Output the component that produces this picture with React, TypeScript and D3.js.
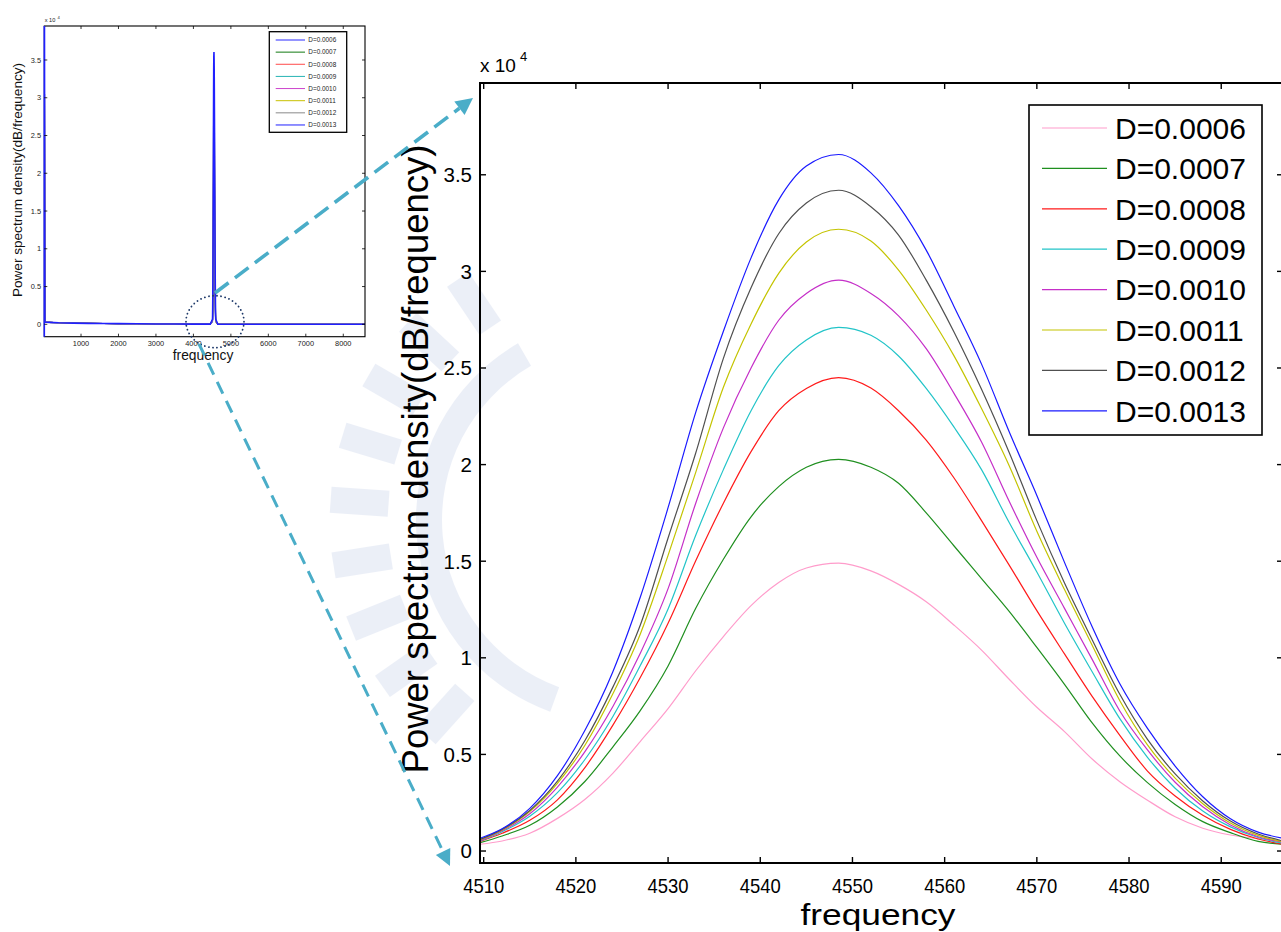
import React from "react";
import * as d3 from "d3";

// frequency samples (Hz) of the zoomed view
const FREQ = [4509.6, 4512, 4515, 4518, 4521, 4524, 4527, 4530, 4533, 4536, 4539, 4542, 4545, 4548.5, 4552, 4555, 4558, 4561, 4564, 4567, 4570, 4573, 4576, 4579, 4582, 4585, 4588, 4591, 4594, 4596.7];

// power spectrum density, in units of 1e4
const PSD_D0006 = [0.035, 0.052, 0.092, 0.169, 0.268, 0.402, 0.568, 0.737, 0.933, 1.11, 1.27, 1.39, 1.465, 1.49, 1.45, 1.38, 1.29, 1.17, 1.04, 0.889, 0.744, 0.618, 0.476, 0.359, 0.263, 0.177, 0.118, 0.083, 0.064, 0.053];
const PSD_D0007 = [0.043, 0.078, 0.133, 0.228, 0.361, 0.538, 0.728, 0.958, 1.256, 1.51, 1.73, 1.886, 1.986, 2.027, 1.986, 1.903, 1.75, 1.58, 1.41, 1.24, 1.054, 0.863, 0.663, 0.492, 0.354, 0.241, 0.152, 0.095, 0.05, 0.035];
const PSD_D0008 = [0.05, 0.092, 0.159, 0.265, 0.433, 0.65, 0.899, 1.179, 1.502, 1.8, 2.067, 2.279, 2.394, 2.45, 2.396, 2.279, 2.127, 1.932, 1.71, 1.48, 1.244, 1.02, 0.8, 0.599, 0.414, 0.285, 0.185, 0.112, 0.062, 0.035];
const PSD_D0009 = [0.052, 0.1, 0.18, 0.302, 0.475, 0.695, 0.961, 1.253, 1.634, 1.974, 2.279, 2.512, 2.645, 2.71, 2.669, 2.562, 2.394, 2.195, 1.974, 1.7, 1.444, 1.179, 0.928, 0.685, 0.485, 0.325, 0.207, 0.125, 0.07, 0.04];
const PSD_D0010 = [0.054, 0.105, 0.193, 0.331, 0.516, 0.747, 1.025, 1.358, 1.8, 2.19, 2.5, 2.747, 2.886, 2.955, 2.886, 2.77, 2.6, 2.37, 2.117, 1.81, 1.52, 1.256, 0.992, 0.725, 0.523, 0.356, 0.229, 0.135, 0.074, 0.045];
const PSD_D0011 = [0.058, 0.109, 0.204, 0.35, 0.549, 0.813, 1.125, 1.53, 1.96, 2.4, 2.728, 2.99, 3.152, 3.218, 3.157, 3.007, 2.8, 2.564, 2.29, 1.994, 1.655, 1.353, 1.065, 0.778, 0.549, 0.377, 0.245, 0.145, 0.081, 0.048];
const PSD_D0012 = [0.06, 0.112, 0.21, 0.362, 0.573, 0.847, 1.171, 1.62, 2.06, 2.55, 2.915, 3.195, 3.354, 3.42, 3.335, 3.188, 2.955, 2.688, 2.39, 2.063, 1.71, 1.387, 1.094, 0.811, 0.578, 0.399, 0.259, 0.155, 0.088, 0.052];
const PSD_D0013 = [0.066, 0.115, 0.221, 0.39, 0.626, 0.927, 1.316, 1.777, 2.27, 2.69, 3.07, 3.37, 3.545, 3.605, 3.51, 3.34, 3.11, 2.82, 2.52, 2.17, 1.84, 1.494, 1.161, 0.866, 0.635, 0.44, 0.281, 0.167, 0.098, 0.066];

const LABELS = ["D=0.0006", "D=0.0007", "D=0.0008", "D=0.0009", "D=0.0010", "D=0.0011", "D=0.0012", "D=0.0013"];
const COLORS = ["#ff9ccb", "#1f8f1f", "#ff1a1a", "#22c4c8", "#c52fc8", "#c4c400", "#505050", "#1a1aff"];
const INSET_COLORS = ["#2a2aff", "#127a12", "#ff4a4a", "#26b4b4", "#cc44cc", "#c8c000", "#8a8a8a", "#2020ff"];

const X_TICKS = [4510, 4520, 4530, 4540, 4550, 4560, 4570, 4580, 4590];
const Y_TICKS = [0, 0.5, 1, 1.5, 2, 2.5, 3, 3.5];
const INSET_X_TICKS = [1000, 2000, 3000, 4000, 5000, 6000, 7000, 8000];

// full-range spectrum around the peak (inset)
const INSET_LOW_FREQ = [20, 35, 150, 400, 800, 1200, 1600, 2000, 2500, 3000, 3500, 4000, 4450];
const INSET_LOW_PSD = [4.6, 0.03, 0.026, 0.02, 0.016, 0.013, 0.011, 0.009, 0.007, 0.005, 0.004, 0.003, 0.002];
const INSET_HIGH_FREQ = [4650, 5500, 6500, 7500, 8580];
const INSET_HIGH_PSD = [0.002, 0.001, 0.001, 0.001, 0.001];

const SERIES = [PSD_D0006, PSD_D0007, PSD_D0008, PSD_D0009, PSD_D0010, PSD_D0011, PSD_D0012, PSD_D0013];

// faint background emblem (watermark), angles in degrees
const MARK_RAYS = [132, 145, 158, 171, 184, 197, 210, 223, 236];

const FONT = "'Liberation Sans', Arial, Helvetica, sans-serif";
const ARROW = "#4aadc8";

function Arrow({ x1, y1, x2, y2, w, dash, head }: any) {
  const dx = x2 - x1;
  const dy = y2 - y1;
  const len = Math.sqrt(dx * dx + dy * dy);
  const ux = dx / len;
  const uy = dy / len;
  const bx = x2 - ux * head;
  const by = y2 - uy * head;
  const px = -uy * head * 0.5;
  const py = ux * head * 0.5;
  return (
    <g>
      <line x1={x1} y1={y1} x2={bx} y2={by} stroke={ARROW} strokeWidth={w} strokeDasharray={dash} />
      <polygon points={`${x2},${y2} ${bx + px},${by + py} ${bx - px},${by - py}`} fill={ARROW} />
    </g>
  );
}

function Watermark() {
  const cx = 620, cy = 520;
  const arc = d3.arc()({ innerRadius: 178, outerRadius: 204, startAngle: (200 * Math.PI) / 180, endAngle: (330 * Math.PI) / 180 } as any) || "";
  return (
    <g opacity={0.2} fill="#9fb2dc">
      <path d={arc} transform={`translate(${cx},${cy})`} />
      {MARK_RAYS.map((a) => {
        const r = (a * Math.PI) / 180;
        const x1 = cx + Math.cos(r) * 232, y1 = cy + Math.sin(r) * 232;
        const x2 = cx + Math.cos(r) * 290, y2 = cy + Math.sin(r) * 290;
        return <line key={a} x1={x1} y1={y1} x2={x2} y2={y2} stroke="#9fb2dc" strokeWidth={26} />;
      })}
    </g>
  );
}

function Inset() {
  const left = 44.3, right = 365, top = 26, bottom = 336.7;
  const x = d3.scaleLinear().domain([20, 8580]).range([left, right]);
  const y = d3.scaleLinear().domain([-0.164, 3.95]).range([bottom, top]);
  const freq = [...INSET_LOW_FREQ, ...FREQ, ...INSET_HIGH_FREQ];
  const line = d3.line<number>().x((d, i) => x(freq[i])).y((d) => y(d));
  const tl = 3;
  return (
    <g>
      <defs>
        <clipPath id="insetClip">
          <rect x={left} y={top} width={right - left} height={bottom - top} />
        </clipPath>
      </defs>
      <rect x={left} y={top} width={right - left} height={bottom - top} fill="#fff" />
      <g clipPath="url(#insetClip)">
        {SERIES.map((s, k) => (
          <path key={k} d={line([...INSET_LOW_PSD, ...s, ...INSET_HIGH_PSD]) || ""} fill="none" stroke={INSET_COLORS[k]} strokeWidth={k === 7 ? 1.6 : 1.1} />
        ))}
      </g>
      <rect x={left} y={top} width={right - left} height={bottom - top} fill="none" stroke="#000" strokeWidth={1.1} />
      <line x1={left} y1={top} x2={left} y2={bottom} stroke="#2020ff" strokeWidth={1.6} />
      {INSET_X_TICKS.map((t) => (
        <g key={t}>
          <line x1={x(t)} x2={x(t)} y1={bottom} y2={bottom - tl} stroke="#000" strokeWidth={0.8} />
          <line x1={x(t)} x2={x(t)} y1={top} y2={top + tl} stroke="#000" strokeWidth={0.8} />
          <text x={x(t)} y={345.5} fontSize={7.4} textAnchor="middle" fontFamily={FONT} fill="#222">{t}</text>
        </g>
      ))}
      {Y_TICKS.map((t) => (
        <g key={t}>
          <line x1={left} x2={left + tl} y1={y(t)} y2={y(t)} stroke="#000" strokeWidth={0.8} />
          <line x1={right} x2={right - tl} y1={y(t)} y2={y(t)} stroke="#000" strokeWidth={0.8} />
          <text x={41} y={y(t)} dy="0.35em" fontSize={7.4} textAnchor="end" fontFamily={FONT} fill="#222">{String(t)}</text>
        </g>
      ))}
      <text x={44.7} y={22} fontSize={5.6} fontFamily={FONT} fill="#222">x 10</text>
      <text x={57.5} y={18.5} fontSize={4.2} fontFamily={FONT} fill="#222">4</text>
      <text transform={`translate(22,180) rotate(-90)`} fontSize={13.6} textAnchor="middle" fontFamily={FONT} fill="#111">Power spectrum density(dB/frequency)</text>
      <text x={203} y={360} fontSize={13.8} textAnchor="middle" fontFamily={FONT} fill="#111">frequency</text>
      <rect x={269.3} y={31.7} width={77.4} height={100.6} fill="#fff" stroke="#000" strokeWidth={1.3} />
      {LABELS.map((lab, k) => (
        <g key={lab}>
          <line x1={275.7} x2={305} y1={40 + k * 12.14} y2={40 + k * 12.14} stroke={INSET_COLORS[k]} strokeWidth={1} />
          <text x={308.3} y={40 + k * 12.14} dy="0.36em" fontSize={6.4} fontFamily={FONT} fill="#222">{lab}</text>
        </g>
      ))}
    </g>
  );
}

function MainChart() {
  const left = 480, right = 1283, top = 83, bottom = 863;
  const x = d3.scaleLinear().domain([4509.6, 4596.7]).range([left, right]);
  const y = d3.scaleLinear().domain([-0.062, 3.975]).range([bottom, top]);
  const line = d3.line<number>().x((d, i) => x(FREQ[i])).y((d) => y(d)).curve(d3.curveMonotoneX);
  const tl = 6;
  const legY = (k: number) => 128 + k * 40.4;
  return (
    <g>
      <defs>
        <clipPath id="mainClip">
          <rect x={left} y={top} width={right - left} height={bottom - top} />
        </clipPath>
      </defs>
      <g clipPath="url(#mainClip)">
        {SERIES.map((s, k) => (
          <path key={k} d={line(s) || ""} fill="none" stroke={COLORS[k]} strokeWidth={1.2} />
        ))}
      </g>
      <rect x={left} y={top} width={right - left} height={bottom - top} fill="none" stroke="#000" strokeWidth={2} />
      {X_TICKS.map((t) => (
        <g key={t}>
          <line x1={x(t)} x2={x(t)} y1={bottom} y2={bottom - tl} stroke="#000" strokeWidth={1.4} />
          <line x1={x(t)} x2={x(t)} y1={top} y2={top + tl} stroke="#000" strokeWidth={1.4} />
          <text x={x(t)} y={893} fontSize={21} textAnchor="middle" fontFamily={FONT} textLength={41} lengthAdjust="spacingAndGlyphs" fill="#000">{t}</text>
        </g>
      ))}
      {Y_TICKS.map((t) => (
        <g key={t}>
          <line x1={left} x2={left + tl} y1={y(t)} y2={y(t)} stroke="#000" strokeWidth={1.4} />
          <line x1={right} x2={right - tl} y1={y(t)} y2={y(t)} stroke="#000" strokeWidth={1.4} />
          <text x={472} y={y(t)} dy="0.36em" fontSize={20.5} textAnchor="end" fontFamily={FONT} fill="#000">{String(t)}</text>
        </g>
      ))}
      <text x={480} y={72} fontSize={19} fontFamily={FONT} fill="#000">x 10</text>
      <text x={520} y={61} fontSize={13} fontFamily={FONT} fill="#000">4</text>
      <text transform={`translate(428,459) rotate(-90)`} fontSize={36.5} textAnchor="middle" fontFamily={FONT} fill="#000">Power spectrum density(dB/frequency)</text>
      <text x={878} y={925} fontSize={29} textAnchor="middle" fontFamily={FONT} textLength={155} lengthAdjust="spacingAndGlyphs" fill="#000">frequency</text>
      <rect x={1029} y={105} width={233} height={330} fill="#fff" stroke="#000" strokeWidth={1.6} />
      {LABELS.map((lab, k) => (
        <g key={lab}>
          <line x1={1042} x2={1107} y1={legY(k)} y2={legY(k)} stroke={COLORS[k]} strokeWidth={1.2} />
          <text x={1115} y={legY(k)} dy="0.36em" fontSize={30} fontFamily={FONT} fill="#000">{lab}</text>
        </g>
      ))}
    </g>
  );
}

export default function App() {
  return (
    <div style={{ position: "absolute", left: 0, top: 0 }}>
      <svg width={1281} height={932} style={{ display: "block", background: "#fff" }}>
        <Watermark />
        <MainChart />
        <Inset />
        <ellipse cx={215} cy={321.7} rx={29} ry={26} fill="none" stroke="#1f3a6a" strokeWidth={1.8} strokeDasharray="0.1 4" strokeLinecap="round" />
        <Arrow x1={215} y1={293} x2={473} y2={98} w={3.6} dash="17 8" head={17} />
        <Arrow x1={199} y1={344} x2={450} y2={866} w={3} dash="13 8" head={16} />
      </svg>
    </div>
  );
}
